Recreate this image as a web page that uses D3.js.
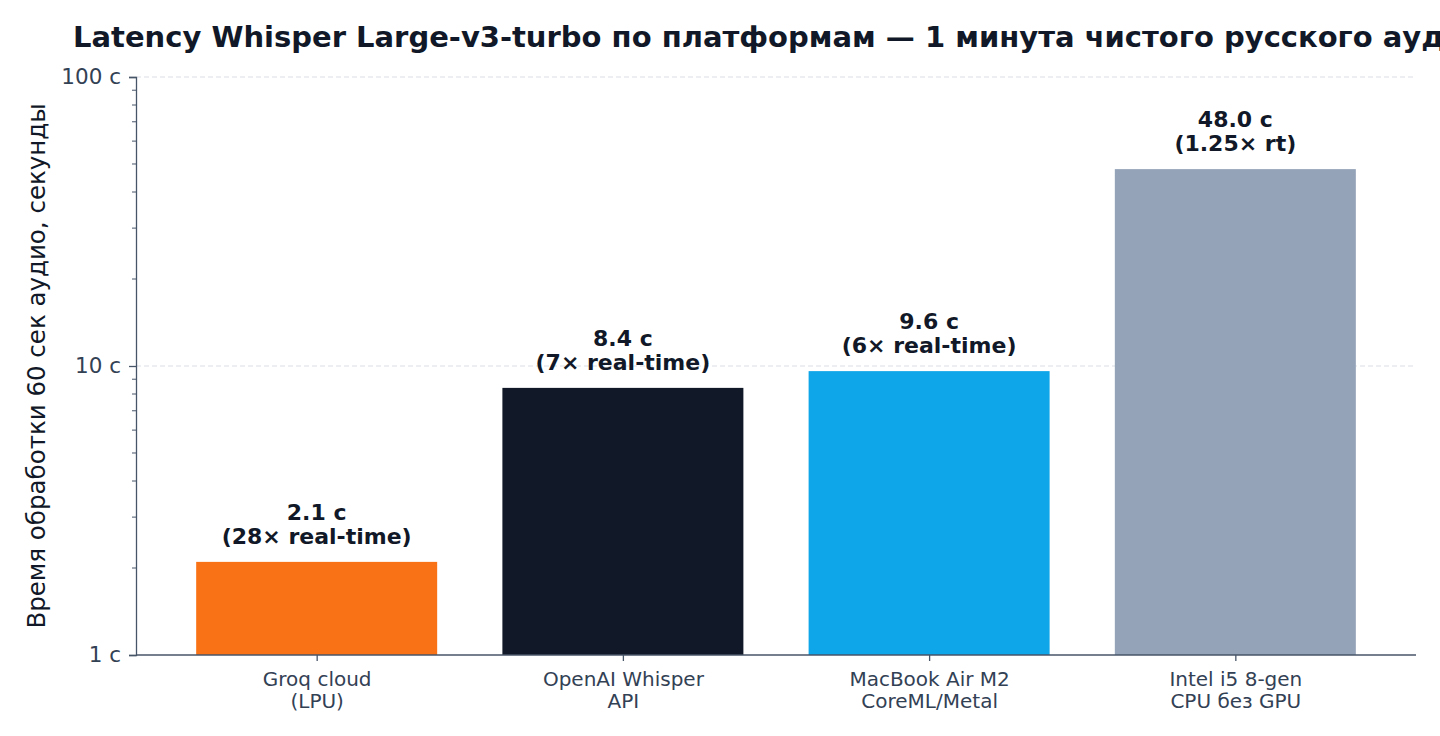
<!DOCTYPE html>
<html>
<head>
<meta charset="utf-8">
<script src="https://cdn.jsdelivr.net/npm/d3@7"></script>
<style>
  html, body { margin: 0; padding: 0; background: #fff; }
  svg { display: block; font-family: "DejaVu Sans", sans-serif; }
</style>
</head>
<body>
<svg id="chart" width="1440" height="736"></svg>
<script>
// Данные графика
const platforms = [
    ["Groq cloud", "(LPU)"],
    ["OpenAI Whisper", "API"],
    ["MacBook Air M2", "CoreML/Metal"],
    ["Intel i5 8-gen", "CPU без GPU"]
];
const seconds = [2.1, 8.4, 9.6, 48.0];
const valueLabels = ["2.1 с", "8.4 с", "9.6 с", "48.0 с"];
const speedLabels = ["(28× real-time)", "(7× real-time)", "(6× real-time)", "(1.25× rt)"];
const barColors = ["#f97316", "#111827", "#0ea5e9", "#94a3b8"];
const yTicks = [1, 10, 100];

const svg = d3.select("#chart");
const margin = { top: 77, right: 24, bottom: 81, left: 136 },
      width = +svg.attr("width") - margin.left - margin.right,
      height = +svg.attr("height") - margin.top - margin.bottom;

const g = svg.append("g").attr("transform", `translate(${margin.left},${margin.top})`);

// Escales
const keys = platforms.map((d, i) => i);
const x = d3.scalePoint()
            .domain(keys)
            .range([0, width])
            .padding(0.59);
const barW = x.step() * 0.787;

const y = d3.scaleLog()
            .domain([1, 100])
            .range([height, 0]);

// Gridlines (només majors)
g.append("g")
 .selectAll("line")
 .data(yTicks.filter(t => t > 1))
 .enter()
 .append("line")
 .attr("x1", 0)
 .attr("x2", width)
 .attr("y1", d => y(d))
 .attr("y2", d => y(d))
 .attr("stroke", "#d9dde3")
 .attr("stroke-width", 1)
 .attr("stroke-dasharray", "5,3");

// Barres
g.selectAll("rect.bar")
 .data(seconds)
 .enter()
 .append("rect")
 .attr("class", "bar")
 .attr("x", (d, i) => x(i) - barW / 2)
 .attr("y", d => y(d))
 .attr("width", barW)
 .attr("height", d => height - y(d))
 .attr("fill", (d, i) => barColors[i]);

// Eix Y amb ticks menors
const minorTicks = [];
[1, 10].forEach(base => {
    for (let k = 2; k <= 9; k++) minorTicks.push(base * k);
});

const yAxis = g.append("g")
 .call(d3.axisLeft(y)
         .tickValues(yTicks)
         .tickFormat(d => `${d} с`)
         .tickSize(7)
         .tickPadding(8));

yAxis.attr("font-size", 21.5).attr("font-family", "DejaVu Sans");
yAxis.select(".domain").attr("stroke", "#475569").attr("stroke-width", 1.3);
yAxis.selectAll(".tick line").attr("stroke", "#475569").attr("stroke-width", 1.3);
yAxis.selectAll(".tick text")
     .attr("fill", "#334155")
     .style("font-size", "21.5px");

g.append("g")
 .selectAll("line")
 .data(minorTicks)
 .enter()
 .append("line")
 .attr("x1", -4)
 .attr("x2", 0)
 .attr("y1", d => y(d))
 .attr("y2", d => y(d))
 .attr("stroke", "#475569")
 .attr("stroke-width", 1);

// Eix X
const xAxis = g.append("g")
 .attr("transform", `translate(0,${height})`)
 .call(d3.axisBottom(x).tickSize(6).tickFormat(""));

xAxis.attr("font-size", 20).attr("font-family", "DejaVu Sans");
xAxis.select(".domain").attr("stroke", "#475569").attr("stroke-width", 1.3)
     .attr("d", `M0,0H${width}`);
xAxis.selectAll(".tick line").attr("stroke", "#475569").attr("stroke-width", 1.3);

xAxis.selectAll(".tick")
     .each(function(d) {
         const t = d3.select(this).append("text")
             .attr("fill", "#334155")
             .attr("text-anchor", "middle")
             .style("font-size", "20px");
         platforms[d].forEach((line, j) => {
             t.append("tspan")
              .attr("x", 0)
              .attr("y", 31 + j * 22)
              .text(line);
         });
     });

// Etiquetes sobre les barres
const labels = g.selectAll("text.val")
 .data(seconds)
 .enter()
 .append("text")
 .attr("class", "val")
 .attr("text-anchor", "middle")
 .attr("fill", "#111827")
 .style("font-size", "22px")
 .style("font-weight", "bold");

labels.append("tspan")
      .attr("x", (d, i) => x(i))
      .attr("y", d => y(d) - 42)
      .text((d, i) => valueLabels[i]);

labels.append("tspan")
      .attr("x", (d, i) => x(i))
      .attr("y", d => y(d) - 18)
      .text((d, i) => speedLabels[i]);

// Títol (tallat a la dreta, com a l'original)
svg.append("text")
   .attr("x", 73)
   .attr("y", 47)
   .attr("fill", "#111827")
   .style("font-size", "29px")
   .style("font-weight", "bold")
   .text("Latency Whisper Large-v3-turbo по платформам — 1 минута чистого русского аудио");

// Label eix Y
svg.append("text")
   .attr("transform", `translate(45,${margin.top + height / 2}) rotate(-90)`)
   .attr("text-anchor", "middle")
   .attr("fill", "#111827")
   .style("font-size", "24.5px")
   .text("Время обработки 60 сек аудио, секунды");
</script>
</body>
</html>
